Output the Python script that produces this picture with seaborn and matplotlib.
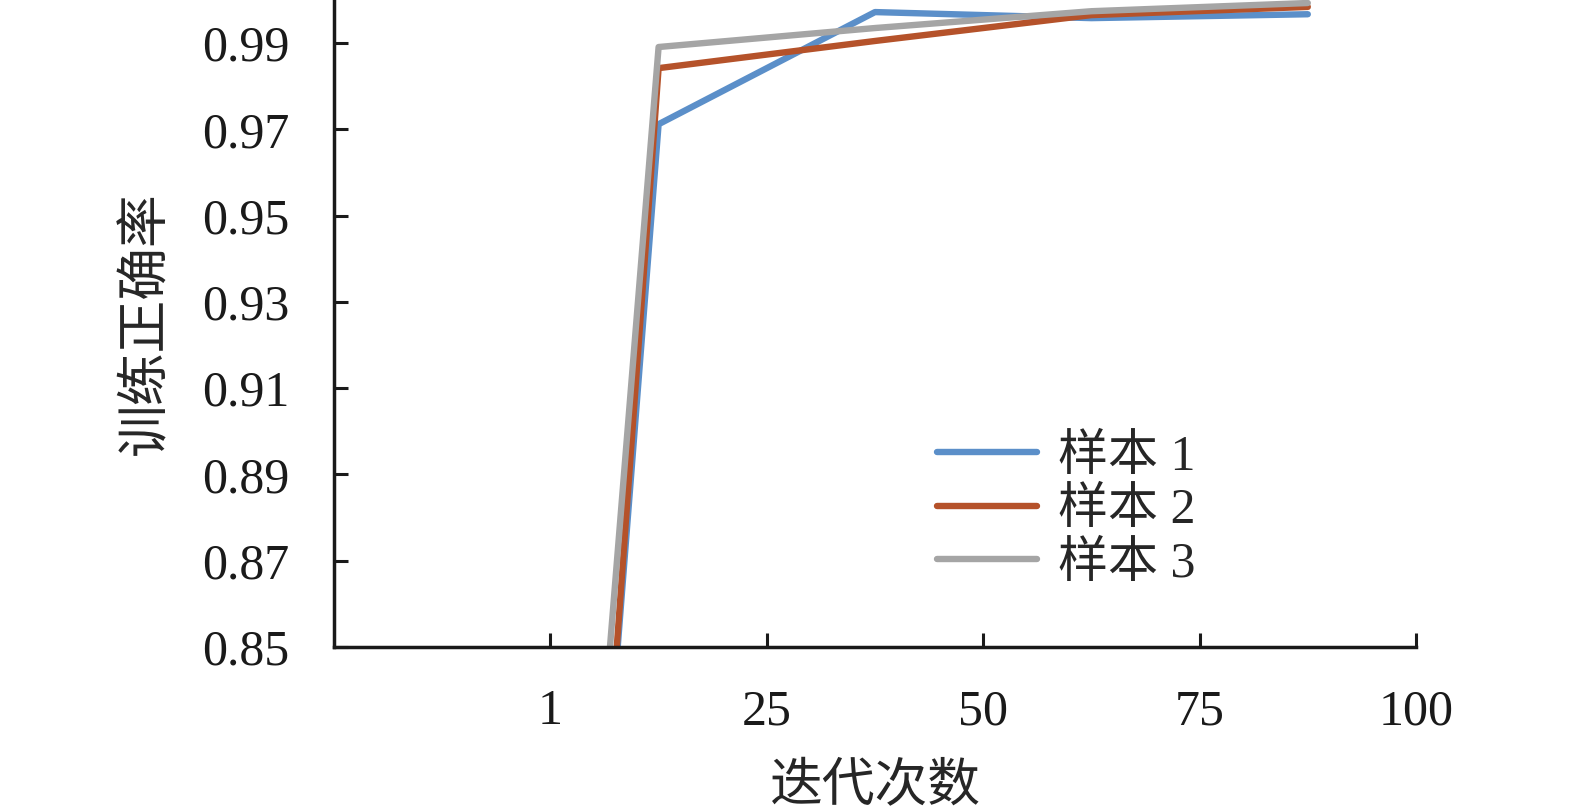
import pandas as pd
import matplotlib
matplotlib.use('Agg')
import matplotlib.pyplot as plt
import seaborn as sns

# values
step_idx = [0, 1, 2, 3, 4]
tick_labels = ['1', '25', '50', '75', '100']
sample1 = [0.33, 0.9712, 0.9972, 0.9958, 0.9967]
sample2 = [0.29, 0.9842, 0.9905, 0.9965, 0.9984]
sample3 = [0.37, 0.9891, 0.9935, 0.9974, 0.9993]
names = ['样本 1', '样本 2', '样本 3']
colors = ['#5B8FC9', '#B5522A', '#A5A5A5']

sns.set_style('ticks')
plt.rcParams['font.family'] = ['Liberation Serif', 'Noto Sans CJK SC']
plt.rcParams['axes.unicode_minus'] = False

df = pd.DataFrame({
    'step': step_idx * 3,
    'acc': sample1 + sample2 + sample3,
    'sample': [names[0]] * 5 + [names[1]] * 5 + [names[2]] * 5,
})

fig = plt.figure(figsize=(15.75, 8.11), dpi=100)
ax = fig.add_axes([334 / 1575, 1 - 647 / 811, (1416 - 334) / 1575, 647 / 811])

sns.lineplot(data=df, x='step', y='acc', hue='sample', palette=dict(zip(names, colors)),
             estimator=None, linewidth=4.6, ax=ax)

ax.set_xlim(-0.5, 4.5)
ax.set_ylim(0.85, 1.0)
ax.set_xticks([i + 0.5 for i in step_idx])
ax.set_xticklabels(tick_labels)
ax.set_yticks([0.85, 0.87, 0.89, 0.91, 0.93, 0.95, 0.97, 0.99])
ax.set_yticklabels(['0.85', '0.87', '0.89', '0.91', '0.93', '0.95', '0.97', '0.99'])
ax.tick_params(axis='both', direction='in', length=10, width=2.2, labelsize=36, colors='#1a1a1a')
ax.tick_params(axis='y', pad=32)
ax.tick_params(axis='x', pad=30)
for s in ['top', 'right']:
    ax.spines[s].set_visible(False)
for s in ['left', 'bottom']:
    ax.spines[s].set_linewidth(2.5)
    ax.spines[s].set_color('#1a1a1a')

ax.set_xlabel('迭代次数', fontsize=38, labelpad=20)
ax.set_ylabel('训练正确率', fontsize=38, labelpad=22)

leg = ax.legend(loc='center left', bbox_to_anchor=((937 - 334) / 1082, (647 - 511) / 647),
                frameon=False, fontsize=36, handlelength=2.0, handletextpad=0.42,
                labelspacing=0.14, borderpad=0, borderaxespad=0)
for line in leg.get_lines():
    line.set_linewidth(4.6)

fig.savefig('out.png', dpi=100)
